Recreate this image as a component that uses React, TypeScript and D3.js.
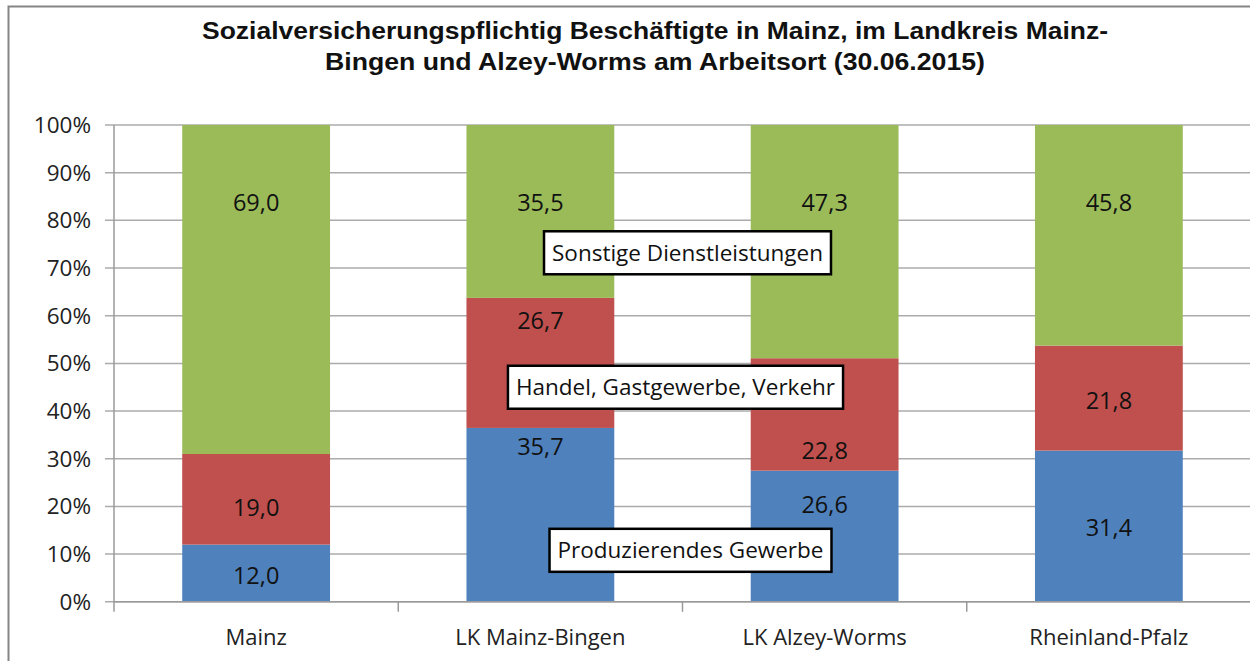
import React from "react";
import * as d3 from "d3";

const categories = ["Mainz", "LK Mainz-Bingen", "LK Alzey-Worms", "Rheinland-Pfalz"];
const seriesNames = ["Produzierendes Gewerbe", "Handel, Gastgewerbe, Verkehr", "Sonstige Dienstleistungen"];
const produzierend = [12.0, 35.7, 26.6, 31.4];
const handel = [19.0, 26.7, 22.8, 21.8];
const sonstige = [69.0, 35.5, 47.3, 45.8];
const seriesColors = ["#4F81BD", "#C0504D", "#9BBB59"];
const yTicks = [0, 10, 20, 30, 40, 50, 60, 70, 80, 90, 100];
const titleLines = [
  "Sozialversicherungspflichtig Beschäftigte in Mainz, im Landkreis Mainz-",
  "Bingen und Alzey-Worms am Arbeitsort (30.06.2015)",
];
const titleWidths = [906, 660];

// manual label placements (in % of axis), as placed in the original chart
const labelPctProd = [5.6, 32.5, 20.5, 15.5];
const labelPctHandel = [19.8, 58.9, 31.8, 42.3];
const labelPctSonst = [83.7, 83.7, 83.7, 83.7];
// series name callouts: [x offset from middle boundary in px, y in %]
const callouts = [
  { text: seriesNames[2], dx: 5, pct: 73.2 },
  { text: seriesNames[1], dx: -7, pct: 45.0 },
  { text: seriesNames[0], dx: 8, pct: 10.8 },
];

const W = 1250;
const H = 661;
const margin = { left: 114, right: 0, top: 125, bottom: 59 };

const fmt = (v: number) => v.toFixed(1).replace(".", ",");

export default function App() {
  const x = d3
    .scaleBand<string>()
    .domain(categories)
    .range([margin.left, W - margin.right + 1])
    .paddingInner(0.48)
    .paddingOuter(0.24);
  const y = d3.scaleLinear().domain([0, 100]).range([H - margin.bottom - 0.2, margin.top]);

  const rows = categories.map((c, i) => ({
    cat: c,
    p: produzierend[i],
    h: handel[i],
    s: sonstige[i],
  }));
  const stack = d3
    .stack<any>()
    .keys(["p", "h", "s"])
    .offset(d3.stackOffsetExpand);
  const stacked = stack(rows);

  const labelPcts = [labelPctProd, labelPctHandel, labelPctSonst];
  const values = [produzierend, handel, sonstige];

  const catStart = margin.left;
  const tickXs = d3.range(categories.length + 1).map((i) => catStart + i * ((W + 1 - catStart) / categories.length));
  const midX = tickXs[2];

  const font = "'Open Sans', 'Noto Sans', sans-serif";

  return (
    <div style={{ position: "absolute", left: 0, top: 0 }}>
      <svg width={W} height={H} style={{ display: "block", background: "#fff" }}>
        <rect x={8.5} y={6.5} width={W + 10} height={H + 10} fill="#fff" stroke="#858585" strokeWidth={2} />
        {titleLines.map((t, i) => (
          <text
            key={i}
            x={655}
            y={39 + i * 31}
            textAnchor="middle"
            fontFamily="'Liberation Sans', Arial, sans-serif"
            fontWeight="bold"
            fontSize={23.5}
            textLength={titleWidths[i]}
            lengthAdjust="spacingAndGlyphs"
            fill="#111"
          >
            {t}
          </text>
        ))}
        {/* gridlines */}
        {yTicks.map((t) => (
          <line key={t} x1={margin.left - 9} x2={W} y1={y(t)} y2={y(t)} stroke="#ababab" strokeWidth={1.5} />
        ))}
        {yTicks.map((t) => (
          <text
            key={"yl" + t}
            x={91}
            y={y(t) + 8}
            textAnchor="end"
            fontFamily={font}
            fontSize={22.5}
            fill="#222"
          >
            {t + "%"}
          </text>
        ))}
        {/* bars */}
        {stacked.map((layer, si) =>
          layer.map((d, ci) => (
            <rect
              key={si + "-" + ci}
              x={x(categories[ci])}
              width={x.bandwidth()}
              y={y(d[1] * 100)}
              height={y(d[0] * 100) - y(d[1] * 100)}
              fill={seriesColors[si]}
            />
          ))
        )}
        {/* axes */}
        <line x1={margin.left} x2={margin.left} y1={y(100)} y2={y(0)} stroke="#9a9a9a" strokeWidth={1.5} />
        <line x1={margin.left} x2={W} y1={y(0)} y2={y(0)} stroke="#9a9a9a" strokeWidth={1.5} />
        {tickXs.map((tx, i) => (
          <line key={"xt" + i} x1={tx} x2={tx} y1={y(0)} y2={y(0) + 10} stroke="#9a9a9a" strokeWidth={1.5} />
        ))}
        {categories.map((c) => (
          <text
            key={"xl" + c}
            x={(x(c) as number) + x.bandwidth() / 2}
            y={645}
            textAnchor="middle"
            fontFamily={font}
            fontSize={22}
            fill="#222"
          >
            {c}
          </text>
        ))}
        {/* data labels */}
        {values.map((vals, si) =>
          vals.map((v, ci) => (
            <text
              key={"dl" + si + ci}
              x={(x(categories[ci]) as number) + x.bandwidth() / 2}
              y={y(labelPcts[si][ci]) + 8.5}
              textAnchor="middle"
              fontFamily={font}
              fontSize={23.5}
              fill="#111"
            >
              {fmt(v)}
            </text>
          ))
        )}
        {/* callouts */}
        {callouts.map((c, i) => (
          <CalloutBox key={"co" + i} cx={midX + c.dx} cy={y(c.pct)} text={c.text} font={font} />
        ))}
      </svg>
    </div>
  );
}

function CalloutBox({ cx, cy, text, font }: { cx: number; cy: number; text: string; font: string }) {
  const ref = React.useRef<SVGTextElement>(null);
  const [w, setW] = React.useState(text.length * 12);
  React.useLayoutEffect(() => {
    if (ref.current) setW(ref.current.getBBox().width);
  }, [text]);
  const bw = w + 16;
  const bh = 43;
  return (
    <>
      <rect x={cx - bw / 2} y={cy - bh / 2} width={bw} height={bh} fill="#fff" stroke="#000" strokeWidth={2.5} />
      <text ref={ref} x={cx} y={cy + 8} textAnchor="middle" fontFamily={font} fontSize={22.5} fill="#111">
        {text}
      </text>
    </>
  );
}
